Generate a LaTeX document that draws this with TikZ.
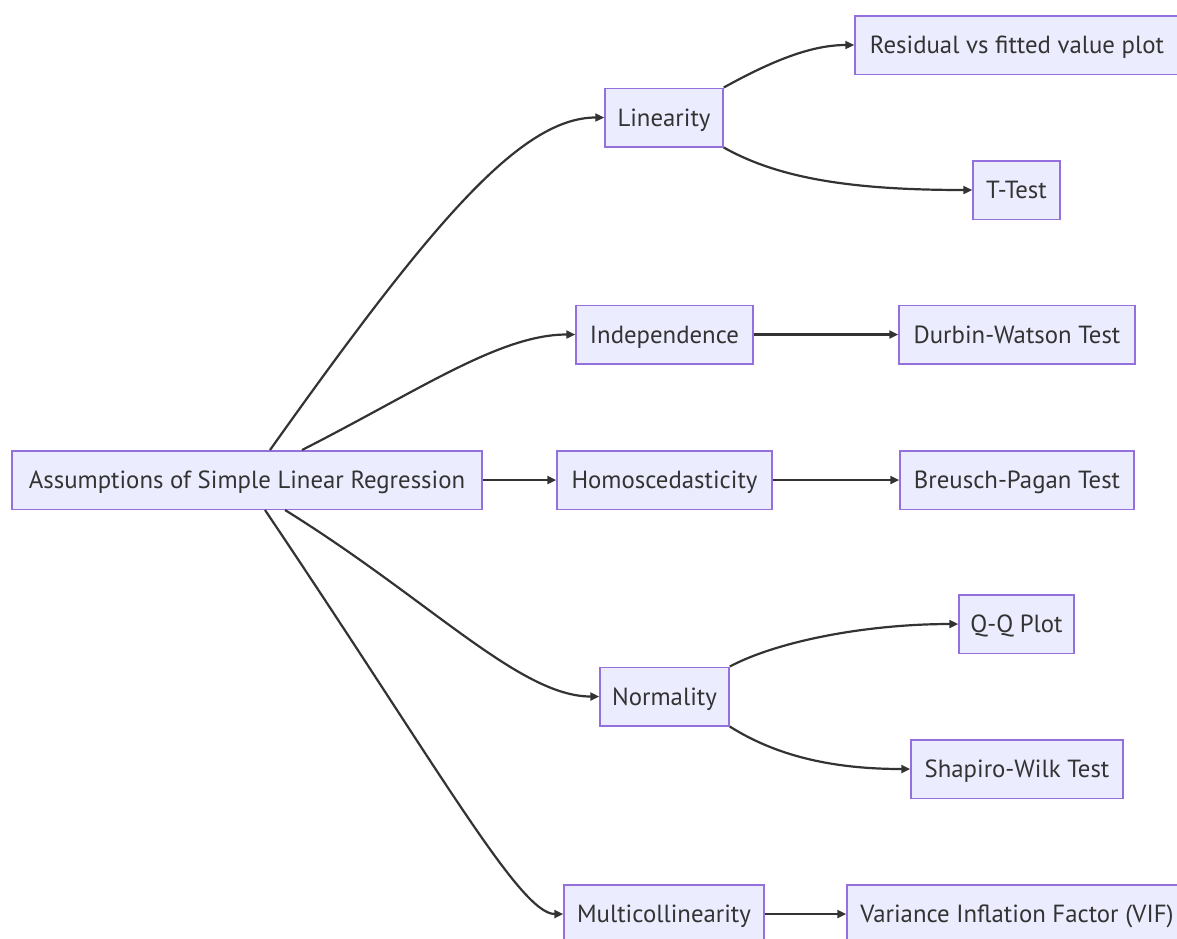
\documentclass[tikz,border=0pt]{standalone}
\usepackage{fontspec}
\setmainfont{PT Sans}
\usetikzlibrary{arrows.meta}
\definecolor{boxfill}{HTML}{ECECFF}
\definecolor{boxline}{HTML}{9370DB}
\definecolor{ink}{HTML}{333333}
\tikzset{
  box/.style={draw=boxline, fill=boxfill, line width=1.5pt, inner sep=0pt,
    minimum height=58.5pt, text=ink, text height=17pt, text depth=0pt,
    font=\fontsize{24.8}{29}\selectfont},
  link/.style={draw=ink, line width=2.2pt,
    -{Triangle[length=9pt,width=8pt]}},
}
\begin{document}
\begin{tikzpicture}[x=1pt,y=-1pt]
\useasboundingbox (0,0) rectangle (1177,938);

% nodes
\node[box, minimum width=470pt] (root) at (247,480) {Assumptions of Simple Linear Regression};
\node[box, minimum width=118pt] (lin)  at (664,117.5) {Linearity};
\node[box, minimum width=324pt] (res)  at (1017,45) {Residual vs fitted value plot};
\node[box, minimum width=87pt]  (tt)   at (1016.5,190) {T-Test};
\node[box, minimum width=177pt] (ind)  at (664.5,334.5) {Independence};
\node[box, minimum width=236pt] (dw)   at (1017,334.5) {Durbin-Watson Test};
\node[box, minimum width=215pt] (hom)  at (664.5,480) {Homoscedasticity};
\node[box, minimum width=234pt] (bp)   at (1017,480) {Breusch-Pagan Test};
\node[box, minimum width=115pt] (qq)   at (1016.5,624) {Q-Q Plot};
\node[box, minimum width=129pt] (norm) at (664.5,696.5) {Normality};
\node[box, minimum width=212pt] (sw)   at (1017,769) {Shapiro-Wilk Test};
\node[box, minimum width=200pt] (multi) at (664,914) {Multicollinearity};
\node[box, minimum width=340pt] (vif)  at (1017,914) {Variance Inflation Factor (VIF)};

% connectors from the root
\draw[link] ([xshift=23pt]root.north) .. controls (430,225) and (520,117.5) .. (lin.west);
\draw[link] ([xshift=55pt]root.north) .. controls (420,390) and (500,334.5) .. (ind.west);
\draw[link] (root.east) -- (hom.west);
\draw[link] ([xshift=38pt]root.south) .. controls (430,600) and (520,696.5) .. (norm.west);
\draw[link] ([xshift=18pt]root.south) .. controls (440,770) and (520,914) .. (multi.west);

% connectors to the tests
\draw[link] (lin.north east) .. controls (770,62) and (810,45) .. (res.west);
\draw[link] (lin.south east) .. controls (778,178) and (850,190) .. (tt.west);
\draw[link] (ind.east) -- (dw.west);
\draw[link] (hom.east) -- (bp.west);
\draw[link] (norm.north east) .. controls (780,640) and (870,624) .. (qq.west);
\draw[link] (norm.south east) .. controls (775,755) and (830,769) .. (sw.west);
\draw[link] (multi.east) -- (vif.west);
\end{tikzpicture}
\end{document}
